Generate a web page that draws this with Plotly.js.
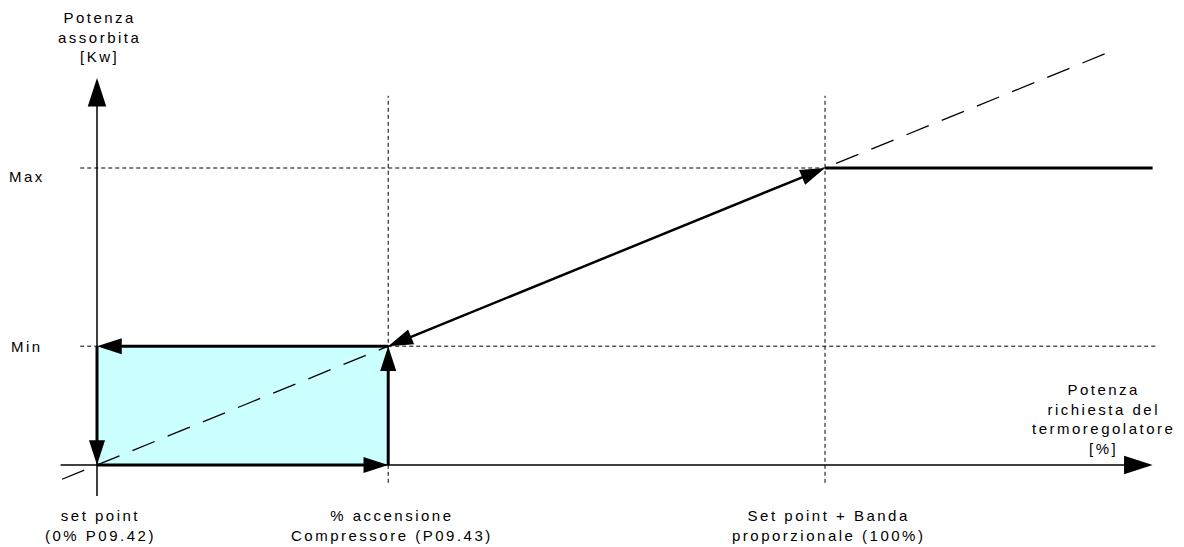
<!DOCTYPE html>
<html>
<head>
<meta charset="utf-8">
<script src="https://cdn.plot.ly/plotly-3.0.1.min.js"></script>
<style>
  html, body { margin: 0; padding: 0; background: #fff; }
  #chart { width: 1184px; height: 547px; }
  .annotation-text { letter-spacing: 2.5px; }
</style>
</head>
<body>
<div id="chart"></div>
<script>
// ---- data (percent of regulator demand on x, percent of absorbed power on y) ----
const markX = [0, 40, 100];            // set point, % accensione compressore, set point + banda
const markLabels = [
  'set point<br>(0% P09.42)',
  '% accensione<br>Compressore (P09.43)',
  'Set point + Banda<br>proporzionale (100%)'
];
const levelY = [40, 100];              // Min, Max absorbed power
const levelLabels = ['Min', 'Max'];
const rampX = [-4.8, 140.1];           // ideal proportional line (dashed)
const rampY = [-4.8, 140.1];
const loopX = [40, 0, 0, 40, 40];      // hysteresis loop (compressor on/off)
const loopY = [40, 40, 0, 0, 40];
const satX = [100, 145];               // saturation at Max
const satY = [100, 100];
const yTitle = 'Potenza<br>assorbita<br>[Kw]';
const xTitle = 'Potenza<br>richiesta del<br>termoregolatore<br>[%]';

// ---- layout constants ----
const XR = [-13.324, 149.31];
const YR = [-27.61, 156.57];
const FONT = {family: 'Liberation Sans, Arial, sans-serif', size: 15, color: '#000'};

const traces = [];

// cyan filled hysteresis area
traces.push({
  x: loopX, y: loopY, mode: 'lines', fill: 'toself',
  fillcolor: '#ccffff', line: {width: 0, color: 'rgba(0,0,0,0)'}
});

// ideal ramp (long dash)
traces.push({
  x: rampX, y: rampY, mode: 'lines',
  line: {color: '#000', width: 1.3, dash: '24px,14px'}
});

// vertical reference dashed lines at compressore & banda
[markX[1], markX[2]].forEach(function (mx) {
  traces.push({
    x: [mx, mx], y: [-6, 124.3], mode: 'lines',
    line: {color: '#000', width: 1, dash: '4px,3px'}
  });
});
// horizontal reference dashed lines for Max and Min
traces.push({
  x: [-2.3, markX[2]], y: [levelY[1], levelY[1]], mode: 'lines',
  line: {color: '#000', width: 1, dash: '4px,3px'}
});
traces.push({
  x: [-2.3, 145.7], y: [levelY[0], levelY[0]], mode: 'lines',
  line: {color: '#000', width: 1, dash: '4px,3px'}
});

function arrow(x0, y0, x1, y1, w, head) {
  traces.push({
    x: [x0, x1], y: [y0, y1], mode: 'lines+markers',
    line: {color: '#000', width: w},
    marker: {symbol: 'arrow', size: [0, head], angleref: 'previous', color: '#000',
             opacity: 1, line: {width: 0}}
  });
}

// axes with arrows
arrow(-5, 0, 145, 0, 1.5, 30);
arrow(0, -10.4, 0, 130.3, 1.5, 30);

// hysteresis loop edges with arrows
for (let i = 0; i < loopX.length - 1; i++) {
  arrow(loopX[i], loopY[i], loopX[i + 1], loopY[i + 1], 3, 26);
}

// double-headed arrow between Min at compressore and Max at banda
const midX = (markX[1] + markX[2]) / 2, midY = (levelY[0] + levelY[1]) / 2;
arrow(midX, midY, markX[2], levelY[1], 2.5, 26);
arrow(midX, midY, markX[1], levelY[0], 2.5, 26);

// saturation line at Max
traces.push({
  x: satX, y: satY, mode: 'lines', line: {color: '#000', width: 3}
});

const annotations = [];
markX.forEach(function (mx, i) {
  annotations.push({
    x: mx + 0.5, y: -20.3, xref: 'x', yref: 'y', text: markLabels[i],
    showarrow: false, font: FONT, xanchor: 'center', yanchor: 'middle', align: 'center'
  });
});
levelY.forEach(function (ly, i) {
  annotations.push({
    x: -9.6, y: ly === levelY[1] ? ly - 3 : ly, xref: 'x', yref: 'y', text: levelLabels[i],
    showarrow: false, font: FONT, xanchor: 'center', yanchor: 'middle'
  });
});
annotations.push({
  x: 0.3, y: 144.1, xref: 'x', yref: 'y', text: yTitle, showarrow: false,
  font: FONT, xanchor: 'center', yanchor: 'middle', align: 'center'
});
annotations.push({
  x: 138.3, y: 15.5, xref: 'x', yref: 'y', text: xTitle, showarrow: false,
  font: FONT, xanchor: 'center', yanchor: 'middle', align: 'center'
});

const layout = {
  width: 1184, height: 547,
  margin: {l: 0, r: 0, t: 0, b: 0, pad: 0},
  paper_bgcolor: '#fff', plot_bgcolor: '#fff',
  showlegend: false, hovermode: false,
  xaxis: {range: XR, visible: false, fixedrange: true},
  yaxis: {range: YR, visible: false, fixedrange: true},
  annotations: annotations
};

Plotly.newPlot('chart', traces, layout, {displayModeBar: false, staticPlot: true});
</script>
</body>
</html>
